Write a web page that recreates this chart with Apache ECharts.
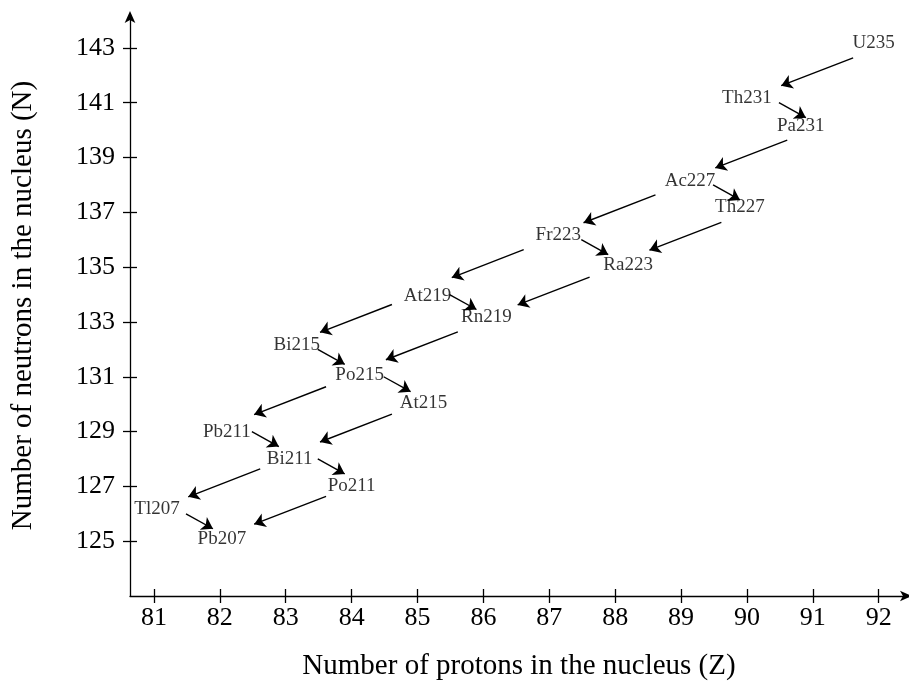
<!DOCTYPE html>
<html>
<head>
<meta charset="utf-8">
<script src="https://cdn.jsdelivr.net/npm/echarts@6/dist/echarts.min.js"></script>
<style>
html,body{margin:0;padding:0;background:#fff;}
#chart{width:909px;height:686px;}
</style>
</head>
<body>
<div id="chart"></div>
<script>
// ---- data ----
const nuclides = ['U235','Th231','Pa231','Ac227','Th227','Fr223','Ra223','At219','Rn219','Bi215','Po215','At215','Pb211','Bi211','Po211','Tl207','Pb207'];
const protons  = [92, 90, 91, 89, 90, 87, 88, 85, 86, 83, 84, 85, 82, 83, 84, 81, 82];
const neutrons = [143,141,140,138,137,136,135,134,133,132,131,130,129,128,127,126,125];
const decayFrom = ['U235','Th231','Pa231','Ac227','Ac227','Th227','Fr223','Fr223','Ra223','At219','At219','Rn219','Bi215','Po215','Po215','At215','Pb211','Bi211','Bi211','Po211','Tl207'];
const decayTo   = ['Th231','Pa231','Ac227','Th227','Fr223','Ra223','Ra223','At219','Rn219','Rn219','Bi215','Po215','Po215','At215','Pb211','Bi211','Bi211','Po211','Tl207','Pb207','Pb207'];
const xTicks = [81,82,83,84,85,86,87,88,89,90,91,92];
const yTicks = [125,127,129,131,133,135,137,139,141,143];
const xTitle = 'Number of protons in the nucleus (Z)';
const yTitle = 'Number of neutrons in the nucleus (N)';

// ---- styles (label nudges in px, arrow trims as fractions of decay step) ----
const labelNudge = {
  U235:[-5,-5], Th231:[0,-5], Pa231:[-12,-4], Ac227:[9,-4], Th227:[-7,-5], Fr223:[9,-5],
  Ra223:[13,-2], At219:[10,1], Rn219:[3,-5], Bi215:[11,-4], Po215:[8,-2], At215:[6,-1],
  Pb211:[7,0], Bi211:[4,0], Po211:[0,0], Tl207:[3,-5], Pb207:[2,-2]
};
const alphaTrim = {tail:[0.194,0.182], head:[0.74,0.69]};
const betaTrim  = {tail:[0.486,0.0], head:[0.895,0.546]};

const FONT = 'Liberation Serif';
const idx = {};
nuclides.forEach((n,i)=>{ idx[n]=i; });

const pointData = nuclides.map((n,i)=>({
  name:n, value:[protons[i], neutrons[i]],
  label:{offset: labelNudge[n] || [0,0]}
}));

const arrowData = decayFrom.map((f,k)=>{
  const a = idx[f], b = idx[decayTo[k]];
  const x0 = protons[a], y0 = neutrons[a];
  const dx = protons[b]-x0, dy = neutrons[b]-y0;
  const trim = dx < 0 ? alphaTrim : betaTrim;
  return {coords:[
    [x0 + trim.tail[0]*dx, y0 + trim.tail[1]*dy],
    [x0 + trim.head[0]*dx, y0 + trim.head[1]*dy]
  ]};
});

const axisLineStyle = {color:'#000', width:1.3};
const hiddenLine = {show:true, onZero:false, lineStyle:{color:'#000', opacity:0}};
const chart = echarts.init(document.getElementById('chart'), null, {renderer:'canvas'});
chart.setOption({
  backgroundColor:'#fff',
  animation:false,
  grid:{left:130, top:15, width:778, height:582},
  xAxis:[{
    type:'value', min:80.636, max:92.445, position:'bottom', offset:0,
    splitLine:{show:false},
    axisLine:{show:true, onZero:false, lineStyle:axisLineStyle, symbol:['none','arrow'], symbolSize:[8,12], symbolOffset:[0,4]},
    axisTick:{show:true, inside:false, length:7, lineStyle:axisLineStyle, customValues:xTicks},
    axisLabel:{show:true, customValues:xTicks, fontFamily:FONT, fontSize:26, color:'#000', margin:9},
    name:xTitle, nameLocation:'middle', nameGap:56,
    nameTextStyle:{fontFamily:FONT, fontSize:29, color:'#000'}
  },{
    type:'value', min:80.636, max:92.445, position:'bottom', offset:0,
    splitLine:{show:false},
    axisLine:hiddenLine,
    axisTick:{show:true, inside:true, length:7, lineStyle:axisLineStyle, customValues:xTicks},
    axisLabel:{show:false}
  }],
  yAxis:[{
    type:'value', min:123.0, max:144.2, position:'left', offset:0,
    splitLine:{show:false},
    axisLine:{show:true, onZero:false, lineStyle:axisLineStyle, symbol:['none','arrow'], symbolSize:[8,12], symbolOffset:[0,4]},
    axisTick:{show:true, inside:false, length:7, lineStyle:axisLineStyle, customValues:yTicks},
    axisLabel:{show:true, customValues:yTicks, fontFamily:FONT, fontSize:26, color:'#000', margin:15},
    name:yTitle, nameLocation:'middle', nameGap:92, nameRotate:90,
    nameTextStyle:{fontFamily:FONT, fontSize:29, color:'#000'}
  },{
    type:'value', min:123.0, max:144.2, position:'left', offset:0,
    splitLine:{show:false},
    axisLine:hiddenLine,
    axisTick:{show:true, inside:true, length:7, lineStyle:axisLineStyle, customValues:yTicks},
    axisLabel:{show:false}
  }],
  series:[{
    type:'lines', coordinateSystem:'cartesian2d', xAxisIndex:0, yAxisIndex:0,
    data:arrowData,
    symbol:['none','arrow'], symbolSize:[8,11],
    lineStyle:{color:'#000', width:1.4, opacity:1},
    silent:true
  },{
    type:'scatter', xAxisIndex:0, yAxisIndex:0,
    data:pointData, symbolSize:0, silent:true,
    label:{show:true, position:'inside', formatter:'{b}', fontFamily:FONT, fontSize:19, color:'#000'}
  }]
});
</script>
</body>
</html>
